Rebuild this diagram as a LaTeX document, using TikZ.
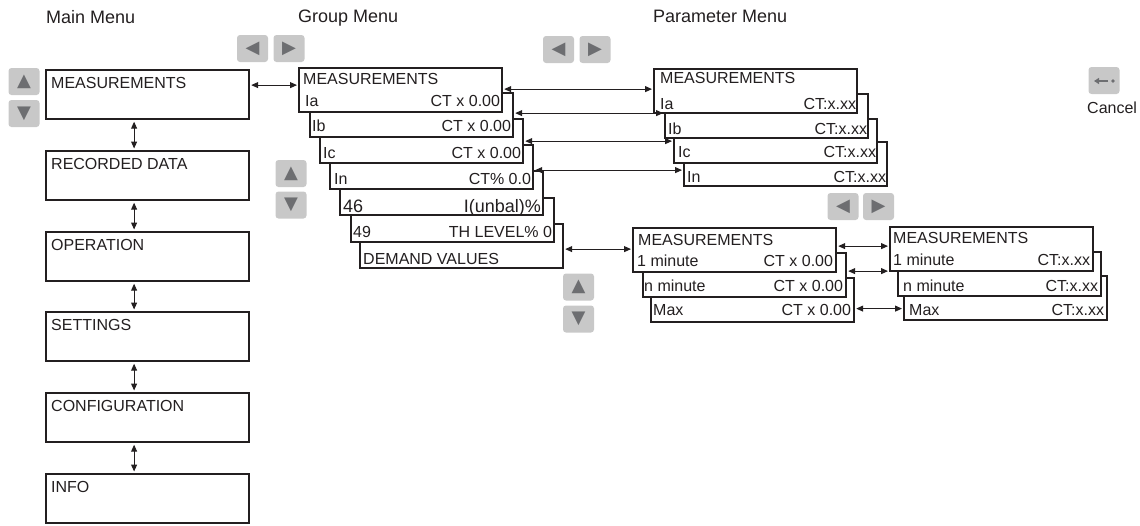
\documentclass[tikz,border=0pt]{standalone}
\usepackage{fontspec}
\setmainfont{Liberation Sans}
\newfontfamily\symfont{DejaVu Sans}
\usetikzlibrary{arrows.meta,positioning,calc}
\definecolor{ink}{HTML}{231F20}
\definecolor{btnfill}{HTML}{C8C8C8}
\definecolor{btnmark}{HTML}{6D6E71}

\begin{document}
\begin{tikzpicture}[
        x=1pt, y=-1pt,
        >={Triangle[length=7pt,width=6pt]},
        every node/.style={font=\fontsize{16}{18}\selectfont, text=ink, inner sep=0pt},
        heading/.style={font=\fontsize{18}{20}\selectfont, anchor=base west},
        menubox/.style={
            draw=ink,
            line width=2.2pt,
            fill=white,
            anchor=north west,
            minimum width=203pt,
            minimum height=49pt
        },
        stackbox/.style={menubox, minimum height=44pt},
        lbl/.style={anchor=base west},
        val/.style={anchor=base east},
        btn/.style={
            fill=btnfill,
            rounded corners=3pt,
            minimum width=31pt,
            minimum height=27pt,
            text=btnmark,
            font=\symfont\fontsize{18}{18}\selectfont
        },
        dbl/.style={<->, draw=ink, line width=1pt, shorten >=1pt, shorten <=1pt}
    ]

    \useasboundingbox (0,0) rectangle (1140,525);

    % column headings
    \node[heading] (hMain) at (46,23) {Main Menu};
    \node[heading] (hGroup) at (298,22) {Group Menu};
    \node[heading] (hParam) at (653,22) {Parameter Menu};

    % main menu
    \foreach \name/\top/\txt in {mMeas/69/MEASUREMENTS, mRec/150/RECORDED DATA,
        mOp/231/OPERATION, mSet/311/SETTINGS, mConf/392/CONFIGURATION, mInfo/473/INFO}{
        \node[menubox] (\name) at (45,\top) {};
        \node[lbl] (\name-t) at ($(\name.north west)+(6,19)$) {\txt};
    }
    \foreach \a/\b in {mMeas/mRec, mRec/mOp, mOp/mSet, mSet/mConf, mConf/mInfo}
        \draw[dbl, shorten >=1.5pt, shorten <=1.5pt] ([xshift=-13.5pt]\a.south) -- ([xshift=-13.5pt]\b.north);

    % group menu stack (lowest first)
    \foreach \name/\lft/\top in {g7/359/223, g6/350/197, g5/339/170, g4/329/144,
        g3/319/118, g2/309/92, g1/298/67}
        \node[stackbox] (\name) at (\lft,\top) {};
    \node[lbl] (g1-h) at ($(g1.north west)+(5,17)$) {MEASUREMENTS};
    \foreach \name/\l/\v/\dy/\dx in {g1/Ia/CT x 0.00/7/7, g2/Ib/CT x 0.00/7/3,
        g3/Ic/CT x 0.00/6/4, g4/In/CT\% 0.0/6/5, g6/49/TH LEVEL\% 0/5.5/3}{
        \node[lbl] (\name-l) at ($(\name.south west)+(\dx,-\dy)$) {\l};
        \node[val] (\name-v) at ($(\name.south east)+(-3,-\dy)$) {\v};
    }
    \node[lbl, font=\fontsize{18}{20}\selectfont] (g5-l) at ($(g5.south west)+(4,-3.5)$) {46};
    \node[val, font=\fontsize{18}{20}\selectfont] (g5-v) at ($(g5.south east)+(-3,-3.5)$) {I(unbal)\%};
    \node[lbl] (g7-l) at ($(g7.south west)+(4,-4.5)$) {DEMAND VALUES};

    % parameter menu stack
    \foreach \name/\lft/\top in {p4/683/141, p3/673/118, p2/664/93, p1/653/68}
        \node[stackbox] (\name) at (\lft,\top) {};
    \node[lbl] (p1-h) at ($(p1.north west)+(7,15)$) {MEASUREMENTS};
    \foreach \name/\l/\dy/\dx in {p1/Ia/5/7, p2/Ib/5/4, p3/Ic/6.5/5, p4/In/5/4}{
        \node[lbl] (\name-l) at ($(\name.south west)+(\dx,-\dy)$) {\l};
        \node[val] (\name-v) at ($(\name.south east)+(-2,-\dy)$) {CT:x.xx};
    }

    % demand values, group and parameter
    \foreach \name/\lft/\top in {d3/650/277, d2/642/252, d1/632/227,
        e3/903/275, e2/897/251, e1/889/226}
        \node[stackbox] (\name) at (\lft,\top) {};
    \node[lbl] (d1-h) at ($(d1.north west)+(6,18)$) {MEASUREMENTS};
    \node[lbl] (e1-h) at ($(e1.north west)+(4,17)$) {MEASUREMENTS};
    \foreach \name/\l/\v/\dy/\dx in {d1/1 minute/CT x 0.00/7/5, d2/n minute/CT x 0.00/7/2,
        d3/Max/CT x 0.00/8/3, e1/1 minute/CT:x.xx/7/4, e2/n minute/CT:x.xx/6/6,
        e3/Max/CT:x.xx/6/6}{
        \node[lbl] (\name-l) at ($(\name.south west)+(\dx,-\dy)$) {\l};
        \node[val] (\name-v) at ($(\name.south east)+(-4,-\dy)$) {\v};
    }

    % connectors between levels
    \foreach \src/\dst/\dy [count=\i] in {mMeas/g1/9.5, g1/p1/1, g2/p2/2, g3/p3/0,
        g4/p4/-3, g7/d1/-3, d1/e1/4, d2/e1/4, d3/e3/-8.5}{
        \coordinate (arr\i) at ([yshift=\dy pt]\src.east);
        \draw[dbl] (arr\i) -- (arr\i -| \dst.west);
    }

    % keys
    \node[btn] (mUp) at (24,81.5) {▲};
    \node[btn] (mDown) at (24,113.5) {▼};
    \node[btn] (gLeft) at (252.5,48.5) {◀};
    \node[btn] (gRight) at (289,48.5) {▶};
    \node[btn] (gUp) at (291,173.5) {▲};
    \node[btn] (gDown) at (291,205) {▼};
    \node[btn] (pLeft) at (558.5,49.5) {◀};
    \node[btn] (pRight) at (595,49.5) {▶};
    \node[btn] (dUp) at (578.5,287) {▲};
    \node[btn] (dDown) at (578.5,319) {▼};
    \node[btn] (eLeft) at (843,206.5) {◀};
    \node[btn] (eRight) at (878.5,206.5) {▶};

    \node[btn] (cancel) at (1104,80.5) {};
    \draw[btnmark, line width=2pt, -{Triangle[length=5pt,width=6pt]}] (1108,81) -- (1094,81);
    \fill[btnmark] (1113,81) circle (1.8pt);
    \node[lbl] (cancel-t) at (1087,113) {Cancel};

\end{tikzpicture}
\end{document}
